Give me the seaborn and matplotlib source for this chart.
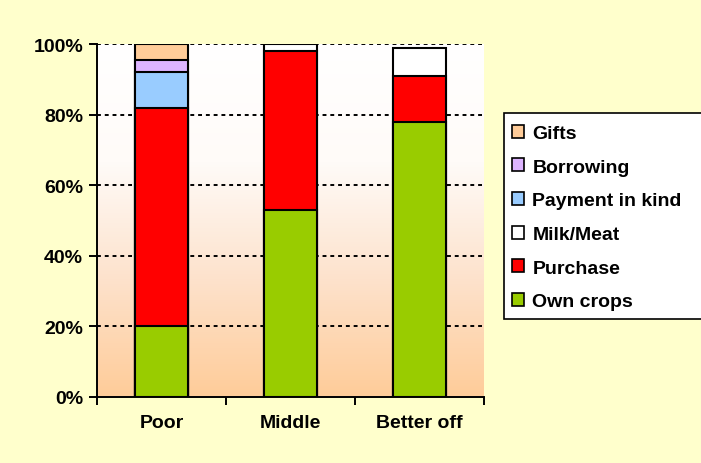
import numpy as np
import pandas as pd
import matplotlib
matplotlib.use("Agg")
import matplotlib.pyplot as plt
from matplotlib.patches import Patch, Rectangle
from matplotlib.colors import LinearSegmentedColormap
import seaborn as sns

# Food source shares (%) by wealth group
groups = ["Poor", "Middle", "Better off"]
own_crops = [20, 53, 78]
purchase = [62, 45, 13]
milk_meat = [0, 2, 8]
payment_in_kind = [10, 0, 0]
borrowing = [3.5, 0, 0]
gifts = [4.5, 0, 0]

series_names = ["Own crops", "Purchase", "Milk/Meat", "Payment in kind", "Borrowing", "Gifts"]
series_values = [own_crops, purchase, milk_meat, payment_in_kind, borrowing, gifts]
series_colors = ["#99CC00", "#FF0000", "#FFFFFF", "#99CCFF", "#DDB4FF", "#FFCC99"]
y_ticks = [0, 20, 40, 60, 80, 100]
y_tick_labels = ["0%", "20%", "40%", "60%", "80%", "100%"]

sns.set_style("ticks")
plt.rcParams["font.family"] = ["Liberation Sans", "DejaVu Sans"]
plt.rcParams["font.weight"] = "bold"
plt.rcParams["text.color"] = "black"
plt.rcParams["xtick.color"] = "black"
plt.rcParams["ytick.color"] = "black"
plt.rcParams["xtick.labelcolor"] = "black"
plt.rcParams["ytick.labelcolor"] = "black"

bg = "#FFFFCC"
fig = plt.figure(figsize=(7.01, 4.64), dpi=100, facecolor=bg)
ax = fig.add_axes([97 / 701, 1 - 398 / 464, (484 - 97) / 701, (398 - 45) / 464])
ax.set_facecolor("none")

# vertical gradient behind the bars: white at the top, peach at the bottom
grad_cmap = LinearSegmentedColormap.from_list("peach", ["#FFFFFF", "#FFFBF8", "#FDE2CC", "#FFCC99"])
grad = np.linspace(0, 1, 256).reshape(-1, 1)
ax.imshow(grad, cmap=grad_cmap, aspect="auto", extent=[0, 1, 0, 1],
          transform=ax.transAxes, zorder=0, interpolation="bilinear")

# stacked bars: draw cumulative totals from the top layer down
df = pd.DataFrame({"group": groups})
cum = np.zeros(len(groups))
cums = []
for vals in series_values:
    cum = cum + np.array(vals, dtype=float)
    cums.append(cum.copy())

for name, color, top, vals in reversed(list(zip(series_names, series_colors, cums, series_values))):
    d = df.copy()
    d["value"] = top
    d.loc[np.array(vals) <= 0, "value"] = 0
    sns.barplot(data=d, x="group", y="value", color=color, width=0.41,
                edgecolor="black", linewidth=1.5, saturation=1, ax=ax, zorder=3,
                order=groups)
    for p in ax.patches[-len(groups):]:
        if p.get_height() == 0:
            p.set_visible(False)

ax.set_xlim(-0.5, 2.5)
ax.set_ylim(0, 100)
ax.set_xlabel("")
ax.set_ylabel("")

for y in y_ticks[1:]:
    ax.axhline(y, color="black", linestyle=(0, (2, 2)), linewidth=1.4, zorder=2)

ax.set_yticks(y_ticks)
ax.set_yticklabels(y_tick_labels, fontsize=14, fontweight="bold", color="black")
ax.set_xticks([-0.5, 0.5, 1.5, 2.5])
ax.set_xticklabels([])
ax.set_xticks([0, 1, 2], minor=True)
ax.set_xticklabels(groups, minor=True, fontsize=14, fontweight="bold", color="black")
ax.tick_params(axis="x", which="major", length=6, width=1.4, color="black", direction="out")
ax.tick_params(axis="x", which="minor", length=0, pad=12)
ax.tick_params(axis="y", length=6, width=1.4, color="black", direction="out", pad=4)

for side in ["top", "right"]:
    ax.spines[side].set_visible(False)
for side in ["left", "bottom"]:
    ax.spines[side].set_color("black")
    ax.spines[side].set_linewidth(1.4)
    ax.spines[side].set_zorder(4)

# legend box runs off the right edge of the figure
fig.patches.append(Rectangle((504 / 701, 1 - 320 / 464), (710 - 504) / 701, (320 - 114) / 464,
                             transform=fig.transFigure, facecolor="white",
                             edgecolor="black", linewidth=1.2, zorder=1))

handles = [Patch(facecolor=c, edgecolor="black", linewidth=1.2, label=n)
           for n, c in zip(series_names, series_colors)][::-1]
leg = fig.legend(handles=handles, loc="upper left",
                 bbox_to_anchor=(506 / 701, 1 - 120 / 464),
                 frameon=False, borderpad=0.3, labelspacing=0.84, handlelength=0.65,
                 handleheight=0.65, handletextpad=0.4, borderaxespad=0,
                 prop={"family": "Liberation Sans", "weight": "bold", "size": 14})
leg.set_zorder(2)

fig.savefig("out.png", dpi=100, facecolor=bg)
